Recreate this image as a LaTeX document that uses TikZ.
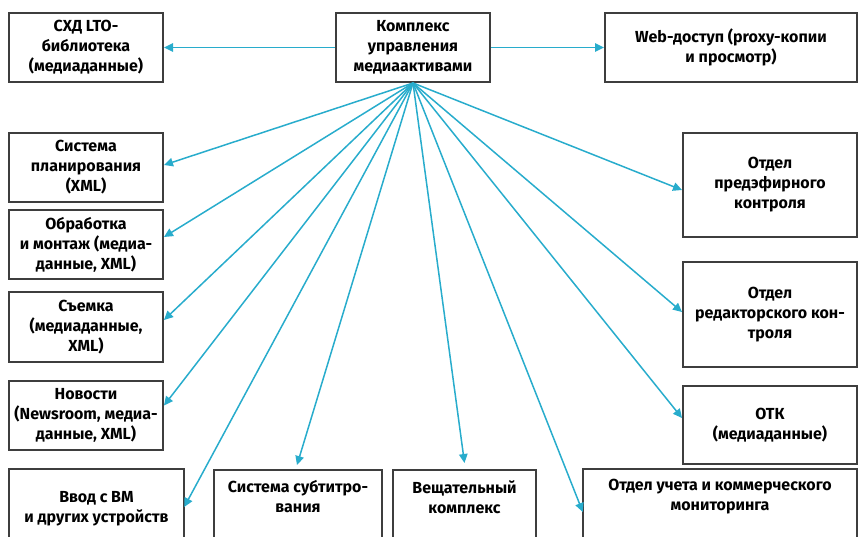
\documentclass[tikz,border=0pt]{standalone}
\usepackage{fontspec}
\setmainfont{Fira Sans}
\usetikzlibrary{arrows.meta}
\definecolor{strelka}{RGB}{40,172,204}
\definecolor{ramka}{RGB}{62,62,62}
\tikzset{
  blok/.style={draw=ramka, line width=2pt, align=center, inner sep=0pt,
    font=\bfseries\fontsize{16}{20}\selectfont},
  otkryt/.style={align=center, anchor=north, inner xsep=0pt,
    font=\bfseries\fontsize{16}{20}\selectfont},
  ramka/.style={draw=ramka, line width=2pt},
  svyaz/.style={draw=strelka, line width=1.5pt, -{Triangle[length=9pt,width=8.5pt]}}
}
\begin{document}
\begin{tikzpicture}[x=1pt,y=-1pt]
  \useasboundingbox (0,0) rectangle (858,536);
  \clip (0,0) rectangle (858,536);
  % verkhniy ryad
  \node[blok, minimum width=154pt, minimum height=69pt] (lto) at (86,47.5) {СХД LTO-\\библиотека\\(медиаданные)};
  \node[blok, minimum width=154pt, minimum height=69pt] (kompl) at (413,47.5) {Комплекс\\управления\\медиаактивами};
  \node[blok, minimum width=252pt, minimum height=69pt] (web) at (731,47.5) {Web-доступ (proxy-копии\\и просмотр)};
  % levaya kolonka
  \node[blok, minimum width=154pt, minimum height=69pt] (plan) at (86,167.5) {Система\\планирования\\(XML)};
  \node[blok, minimum width=154pt, minimum height=69pt] (obr) at (86,244.5) {Обработка\\и монтаж (медиа-\\данные, XML)};
  \node[blok, minimum width=154pt, minimum height=70pt] (sem) at (86,327) {Съемка\\(медиаданные,\\XML)};
  \node[blok, minimum width=154pt, minimum height=69pt] (nov) at (86,415.5) {Новости\\(Newsroom, медиа-\\данные, XML)};
  % pravaya kolonka
  \node[blok, minimum width=174pt, minimum height=104pt] (predef) at (770,185) {Отдел\\предэфирного\\контроля};
  \node[blok, minimum width=174pt, minimum height=105pt] (red) at (770,314.5) {Отдел\\редакторского кон-\\троля};
  \node[blok, minimum width=174pt, minimum height=78pt] (otk) at (770,425) {ОТК\\(медиаданные)};
  % nizhniy ryad (ramki ukhodyat za kray)
  \node[otkryt, minimum width=175pt, inner ysep=22pt] (vvod) at (96.5,469) {Ввод с ВМ\\и других устройств};
  \node[otkryt, minimum width=168pt, inner ysep=10pt] (sub) at (298,470) {Система субтитро-\\вания};
  \node[otkryt, minimum width=143pt, inner ysep=10pt] (vesh) at (464.5,470) {Вещательный\\комплекс};
  \node[otkryt, minimum width=274pt, inner ysep=10pt] (uchet) at (720,469) {Отдел учета и коммерческого\\мониторинга};
  \foreach \n in {vvod,sub,vesh,uchet}
    \draw[ramka] (\n.north west) rectangle ([yshift=-100pt]\n.north east);
  % strelki
  \draw[svyaz] (kompl.west) -- (lto.east);
  \draw[svyaz] (kompl.east) -- (web.west);
  \draw[svyaz] (kompl.south) -- ([yshift=2.5pt]plan.east);
  \draw[svyaz] (kompl.south) -- ([yshift=7.5pt]obr.east);
  \draw[svyaz] (kompl.south) -- ([yshift=7pt]sem.east);
  \draw[svyaz] (kompl.south) -- ([yshift=10pt]nov.east);
  \draw[svyaz] (kompl.south) -- ([yshift=-38pt]vvod.north east);
  \draw[svyaz] (kompl.south) -- ([yshift=5pt,xshift=-1pt]sub.north);
  \draw[svyaz] (kompl.south) -- ([yshift=7pt]vesh.north);
  \draw[svyaz] (kompl.south) -- ([yshift=-43pt]uchet.north west);
  \draw[svyaz] (kompl.south) -- ([yshift=7pt]otk.west);
  \draw[svyaz] (kompl.south) -- ([yshift=2.5pt]red.west);
  \draw[svyaz] (kompl.south) -- ([yshift=-5pt]predef.west);
\end{tikzpicture}
\end{document}
